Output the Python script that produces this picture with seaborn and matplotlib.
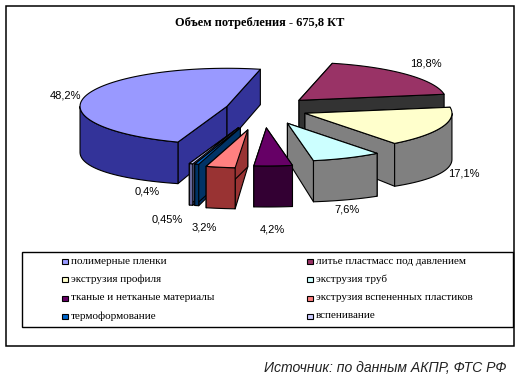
import numpy as np
import matplotlib
matplotlib.use("Agg")
import matplotlib.pyplot as plt
import seaborn as sns

# Values
categories = ["полимерные пленки", "литье пластмасс под давлением", "экструзия профиля",
              "экструзия труб", "тканые и нетканые материалы", "экструзия вспененных пластиков",
              "термоформование", "вспенивание"]
shares = [48.2, 18.8, 17.1, 7.6, 4.2, 3.2, 0.45, 0.4]

top_colors = ["#9999FF", "#993366", "#FFFFCC", "#CCFFFF", "#660066", "#FF8080", "#0066CC", "#CCCCFF"]
side_colors = ["#333399", "#333333", "#808080", "#808080", "#330033", "#993333", "#003366", "#666699"]

# Pie geometry in pixels of the 521x385 image
CX, CY = 263, 109
RX, RY = 147, 38
START = 250.5
APEX_DEPTH = 37
explode = [0.255, 0.335, 0.307, 0.41, 0.5, 0.56, 0.52, 0.52]
draw_order = [1, 2, 0, 3, 7, 6, 5, 4]
label_xy = [(66, 96), (426, 64), (464, 173), (347, 210), (272, 229), (204, 227), (167, 219), (147, 192)]

sns.set_theme(style="white")
plt.rcParams["font.family"] = ["Liberation Serif", "DejaVu Serif"]
top_pal = sns.color_palette(top_colors)
side_pal = sns.color_palette(side_colors)

fig = plt.figure(figsize=(5.21, 3.85), dpi=100, facecolor="white")
ax = fig.add_axes([0, 0, 1, 1])
ax.set_xlim(0, 521)
ax.set_ylim(385, 0)
ax.axis("off")

# Outer frame
ax.add_patch(plt.Rectangle((5.5, 5.5), 508, 340, fill=False, ec="black", lw=1.1))

# Slice angles, clockwise from the start angle
sweeps = 360 * np.array(shares) / sum(shares)
ends = START - np.cumsum(sweeps)
starts = ends + sweeps


def wall_depth(t):
    # the old 3D chart has some perspective: deeper at the sides, shallower at the back
    return 41 + 5 * np.cos(t) ** 2 - 6 * np.clip(np.sin(t), 0, None)


def draw_slice(i):
    mid = np.radians((starts[i] + ends[i]) / 2)
    ax0 = CX + explode[i] * RX * np.cos(mid)
    ay0 = CY - explode[i] * RY * np.sin(mid)
    t = np.radians(np.linspace(starts[i], ends[i], 80))
    rx = ax0 + RX * np.cos(t)
    ry = ay0 - RY * np.sin(t)
    depth = wall_depth(t)
    kw = dict(edgecolor="black", linewidth=0.8, joinstyle="round")
    # radial side walls
    for k in (0, -1):
        ax.fill([ax0, rx[k], rx[k], ax0], [ay0, ry[k], ry[k] + depth[k], ay0 + APEX_DEPTH],
                facecolor=side_pal[i], **kw)
    # outer wall, only the part facing the viewer
    front = np.sin(t) <= 0
    if front.any():
        fx, fy, fd = rx[front], ry[front], depth[front]
        ax.fill(np.r_[fx, fx[::-1]], np.r_[fy, (fy + fd)[::-1]], facecolor=side_pal[i], **kw)
    # top face
    ax.fill(np.r_[ax0, rx], np.r_[ay0, ry], facecolor=top_pal[i], **kw)


for i in draw_order:
    draw_slice(i)

# Percent labels
for v, (x, y) in zip(shares, label_xy):
    txt = f"{v:g}".replace(".", ",") + "%"
    ax.text(x, y, txt, ha="center", va="center", fontsize=8, color="black",
            family=["Liberation Sans", "DejaVu Sans"])

ax.text(260, 23, "Объем потребления - 675,8 КТ", ha="center", va="center",
        fontsize=8.9, fontweight="bold", color="black")

# Legend, filled row by row
ax.add_patch(plt.Rectangle((21.5, 251.5), 491, 75, fill=False, ec="black", lw=1.0))
col_x = [62, 307]
row_y = [261, 279, 298, 316]
for n, (name, c) in enumerate(zip(categories, top_pal)):
    x, y = col_x[n % 2], row_y[n // 2]
    ax.add_patch(plt.Rectangle((x, y - 2.5), 5.5, 5.5, fc=c, ec="black", lw=0.8))
    ax.text(x + 9, y, name, ha="left", va="center", fontsize=8, color="black")

ax.text(507, 368, "Источник: по данным АКПР, ФТС РФ", ha="right", va="center",
        fontsize=10.1, style="italic", color="#222222",
        family=["Liberation Sans", "DejaVu Sans"])

fig.savefig("out.png", dpi=100)
